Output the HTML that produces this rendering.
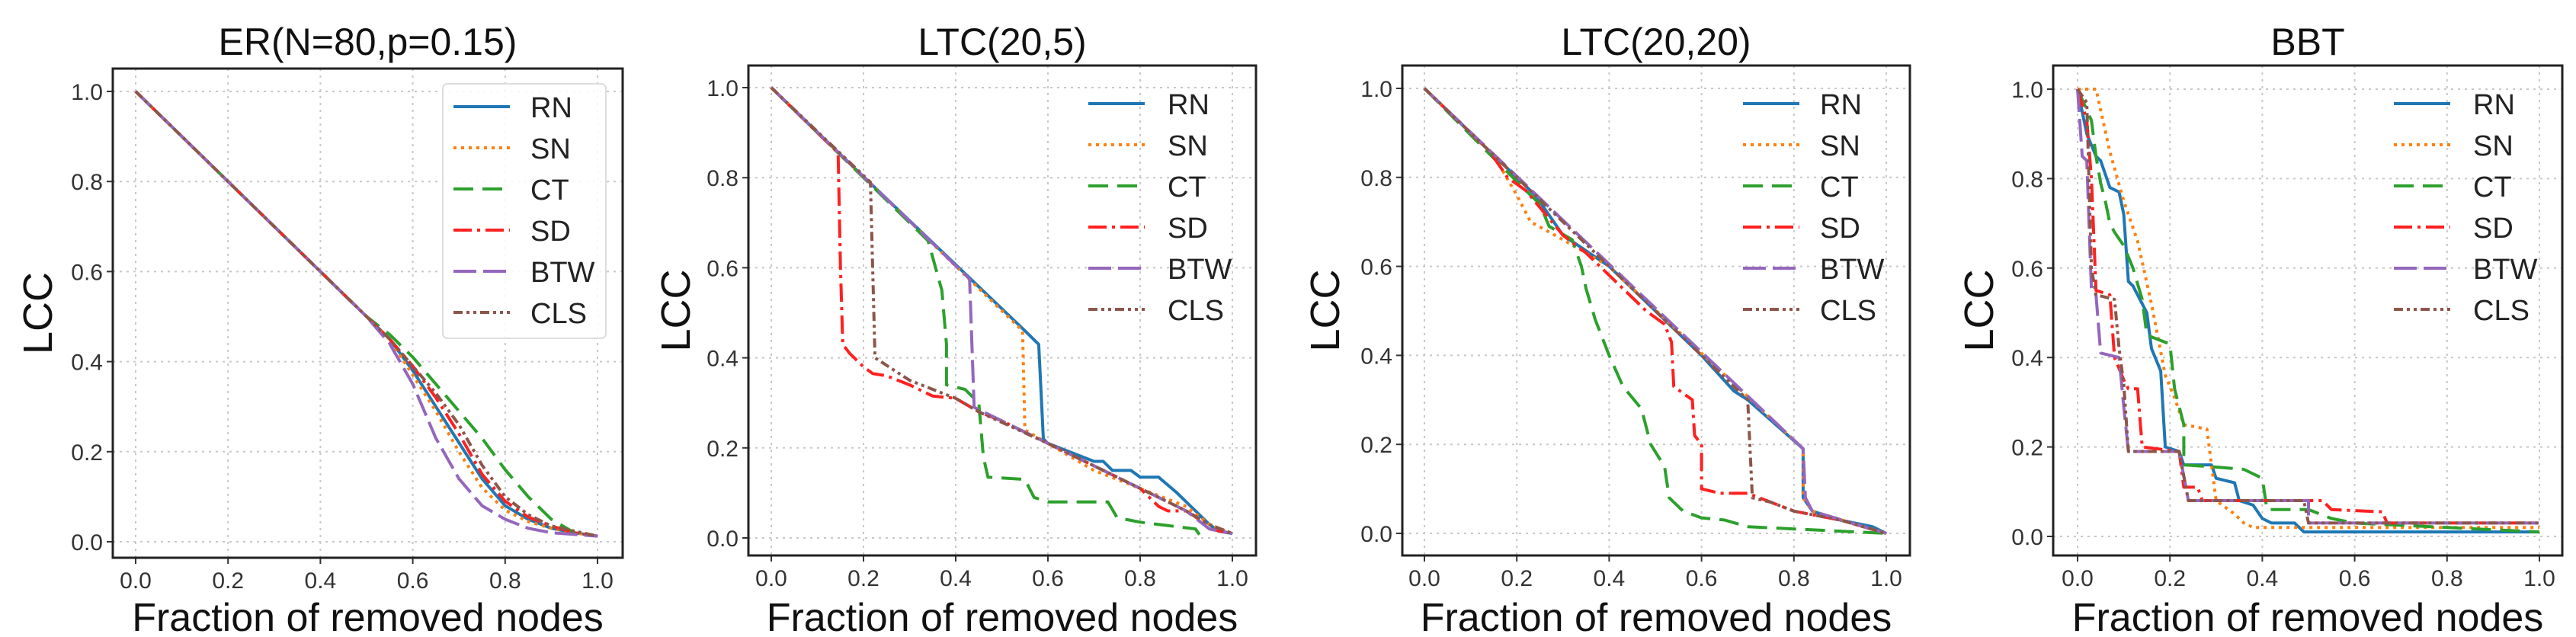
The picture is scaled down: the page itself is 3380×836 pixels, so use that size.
<!DOCTYPE html>
<html><head><meta charset="utf-8"><style>
body{margin:0;background:#fff}
svg{display:block;font-family:"Liberation Sans","DejaVu Sans",sans-serif}
</style></head><body>
<svg id="chart" width="3380" height="836" viewBox="0 0 3380 836" xmlns="http://www.w3.org/2000/svg"></svg>
<script>
const titles = ["ER(N=80,p=0.15)","LTC(20,5)","LTC(20,20)","BBT"];
const seriesNames = ["RN","SN","CT","SD","BTW","CLS"];
const xTicks = [0,0.2,0.4,0.6,0.8,1.0];
const yTicks = [0,0.2,0.4,0.6,0.8,1.0];
const tickLabels = ["0.0","0.2","0.4","0.6","0.8","1.0"];
// data per panel: [series][points [x,y]]
const erData = [
 [[0,1],[0.5,0.5],[0.55,0.45],[0.6,0.38],[0.65,0.3],[0.7,0.22],[0.75,0.14],[0.8,0.08],[0.85,0.05],[0.9,0.03],[0.95,0.02],[1,0.0125]],
 [[0,1],[0.5,0.5],[0.55,0.45],[0.6,0.37],[0.65,0.29],[0.7,0.2],[0.75,0.12],[0.8,0.07],[0.85,0.045],[0.9,0.03],[0.95,0.02],[1,0.0125]],
 [[0,1],[0.5,0.5],[0.55,0.46],[0.6,0.41],[0.65,0.35],[0.7,0.29],[0.75,0.23],[0.8,0.16],[0.85,0.1],[0.9,0.05],[0.95,0.02],[1,0.0125]],
 [[0,1],[0.5,0.5],[0.55,0.45],[0.6,0.39],[0.65,0.32],[0.7,0.24],[0.75,0.15],[0.8,0.09],[0.85,0.055],[0.9,0.035],[0.95,0.02],[1,0.0125]],
 [[0,1],[0.5,0.5],[0.55,0.44],[0.6,0.35],[0.65,0.23],[0.7,0.14],[0.75,0.08],[0.8,0.05],[0.85,0.03],[0.9,0.02],[1,0.0125]],
 [[0,1],[0.5,0.5],[0.55,0.45],[0.6,0.39],[0.65,0.33],[0.7,0.26],[0.75,0.17],[0.8,0.1],[0.85,0.06],[0.9,0.035],[1,0.0125]]
];
const ltc5Data = [
 [[0,1],[0.1,0.9],[0.55,0.46],[0.58,0.43],[0.59,0.22],[0.6,0.21],[0.7,0.17],[0.72,0.17],[0.74,0.15],[0.78,0.15],[0.8,0.135],[0.84,0.135],[0.88,0.1],[0.92,0.06],[0.95,0.03],[0.97,0.015],[1,0.01]],
 [[0,1],[0.545,0.46],[0.55,0.24],[0.6,0.21],[0.7,0.15],[0.8,0.11],[0.9,0.07],[0.95,0.03],[1,0.01]],
 [[0,1],[0.34,0.66],[0.37,0.55],[0.38,0.43],[0.38,0.34],[0.42,0.33],[0.45,0.3],[0.46,0.18],[0.47,0.135],[0.55,0.13],[0.57,0.09],[0.6,0.08],[0.73,0.08],[0.75,0.045],[0.8,0.035],[0.92,0.02],[0.93,0.005]],
 [[0,1],[0.145,0.855],[0.15,0.6],[0.155,0.43],[0.17,0.41],[0.2,0.38],[0.22,0.365],[0.25,0.36],[0.3,0.34],[0.35,0.315],[0.4,0.31],[0.45,0.28],[0.5,0.26],[0.6,0.21],[0.7,0.16],[0.8,0.11],[0.84,0.07],[0.86,0.06],[0.9,0.06],[0.93,0.04],[0.95,0.02],[1,0.01]],
 [[0,1],[0.43,0.575],[0.44,0.29],[0.5,0.26],[0.6,0.21],[0.7,0.16],[0.8,0.11],[0.9,0.06],[0.95,0.02],[1,0.01]],
 [[0,1],[0.215,0.79],[0.225,0.4],[0.3,0.35],[0.35,0.33],[0.4,0.31],[0.45,0.28],[0.6,0.21],[0.7,0.16],[0.8,0.11],[0.9,0.06],[0.95,0.03],[1,0.01]]
];
const ltc20Data = [
 [[0,1],[0.24,0.76],[0.28,0.7],[0.3,0.67],[0.4,0.6],[0.5,0.5],[0.6,0.4],[0.67,0.32],[0.7,0.3],[0.82,0.19],[0.82,0.08],[0.84,0.05],[0.9,0.03],[0.97,0.015],[1,0]],
 [[0,1],[0.15,0.85],[0.2,0.76],[0.23,0.7],[0.3,0.66],[0.35,0.63],[0.4,0.6],[0.82,0.19],[0.82,0.08],[0.84,0.05],[1,0]],
 [[0,1],[0.22,0.77],[0.25,0.74],[0.27,0.69],[0.32,0.66],[0.34,0.6],[0.35,0.55],[0.37,0.48],[0.4,0.4],[0.43,0.33],[0.47,0.28],[0.49,0.2],[0.52,0.15],[0.53,0.08],[0.56,0.05],[0.6,0.035],[0.65,0.03],[0.7,0.015],[0.8,0.01],[0.9,0.005],[1,0]],
 [[0,1],[0.14,0.86],[0.18,0.8],[0.22,0.77],[0.3,0.67],[0.35,0.63],[0.4,0.58],[0.45,0.53],[0.48,0.5],[0.52,0.47],[0.535,0.43],[0.54,0.33],[0.58,0.3],[0.585,0.22],[0.6,0.2],[0.6,0.1],[0.64,0.09],[0.7,0.09],[0.75,0.07],[0.8,0.05],[0.9,0.03],[1,0]],
 [[0,1],[0.82,0.19],[0.825,0.08],[0.84,0.05],[1,0]],
 [[0,1],[0.4,0.6],[0.7,0.3],[0.71,0.08],[0.75,0.07],[0.8,0.05],[0.9,0.03],[1,0]]
];
const bbtData = [
 [[0,1],[0.02,0.9],[0.04,0.85],[0.05,0.84],[0.07,0.78],[0.09,0.77],[0.1,0.72],[0.11,0.57],[0.12,0.56],[0.15,0.5],[0.16,0.42],[0.18,0.37],[0.19,0.2],[0.22,0.19],[0.23,0.16],[0.29,0.16],[0.3,0.13],[0.34,0.12],[0.35,0.08],[0.38,0.07],[0.4,0.04],[0.42,0.03],[0.47,0.03],[0.49,0.01],[1,0.01]],
 [[0,1],[0.04,1],[0.07,0.86],[0.1,0.75],[0.13,0.66],[0.16,0.52],[0.19,0.36],[0.21,0.31],[0.23,0.25],[0.28,0.24],[0.3,0.08],[0.34,0.05],[0.36,0.03],[0.38,0.02],[1,0.02]],
 [[0,1],[0.03,0.93],[0.04,0.85],[0.05,0.79],[0.06,0.75],[0.07,0.7],[0.08,0.68],[0.1,0.65],[0.12,0.6],[0.14,0.53],[0.15,0.45],[0.2,0.43],[0.21,0.33],[0.23,0.25],[0.23,0.16],[0.3,0.155],[0.36,0.15],[0.4,0.13],[0.41,0.06],[0.5,0.06],[0.55,0.04],[0.6,0.03],[0.8,0.02],[1,0.01]],
 [[0,1],[0.02,0.93],[0.03,0.8],[0.04,0.55],[0.07,0.54],[0.08,0.4],[0.1,0.35],[0.11,0.33],[0.13,0.33],[0.14,0.2],[0.22,0.19],[0.23,0.11],[0.26,0.11],[0.27,0.08],[0.53,0.08],[0.55,0.06],[0.66,0.055],[0.67,0.03],[1,0.03]],
 [[0,1],[0.01,0.85],[0.02,0.84],[0.03,0.55],[0.04,0.54],[0.05,0.41],[0.09,0.4],[0.1,0.29],[0.11,0.19],[0.22,0.19],[0.24,0.08],[0.5,0.08],[0.5,0.03],[1,0.03]],
 [[0,1],[0.02,0.97],[0.03,0.6],[0.04,0.54],[0.08,0.53],[0.09,0.42],[0.1,0.34],[0.11,0.19],[0.22,0.19],[0.24,0.08],[0.49,0.08],[0.5,0.03],[1,0.03]]
];
const panelData = [erData, ltc5Data, ltc20Data, bbtData];

const colors = ["#1f77b4","#ff7f0e","#2ca02c","#ff2020","#9467bd","#8c564b"];
const dashes = ["none","4,6","26,12","24,7,4,7","30,9","12,5,4,5,4,5"];
const layout = [
 {L:148,R:817,T:90,B:732,x0:178,x1:784,y0:711,y1:120,ylab:49,leg:{line:595,text:696,top:140,frame:true}},
 {L:982,R:1648,T:86,B:729,x0:1012,x1:1617,y0:706,y1:115,ylab:886,leg:{line:1428,text:1532,top:136,frame:false}},
 {L:1840,R:2506,T:86,B:729,x0:1869,x1:2475,y0:700,y1:116,ylab:1738,leg:{line:2287,text:2388,top:136,frame:false}},
 {L:2694,R:3362,T:86,B:729,x0:2726,x1:3332,y0:704,y1:117,ylab:2596,leg:{line:3141,text:3245,top:136,frame:false}}
];
const NS="http://www.w3.org/2000/svg";
const svg=document.getElementById('chart');
function mk(tag,attrs,parent){const e=document.createElementNS(NS,tag);for(const k in attrs)e.setAttribute(k,attrs[k]);(parent||svg).appendChild(e);return e;}

layout.forEach((p,pi)=>{
  const g=mk('g',{});
  
  
  const sx=v=>p.x0+(p.x1-p.x0)*v;
  const sy=v=>p.y0+(p.y1-p.y0)*v;
  // grid
  xTicks.forEach((t,i)=>{
    const l=mk('line',{x1:sx(t),x2:sx(t),y1:p.T,y2:p.B,stroke:'#c8c8c8','stroke-width':2,'stroke-dasharray':'3,6'},g);
    
    
    const tk=mk('line',{x1:sx(t),x2:sx(t),y1:p.B,y2:p.B+8,stroke:'#333','stroke-width':2},g);
    
    
    const tx=mk('text',{x:sx(t),y:p.B+40,'text-anchor':'middle','font-size':30,fill:'#333'},g);
    tx.textContent=tickLabels[i];
    
    
  });
  yTicks.forEach((t,i)=>{
    const l=mk('line',{x1:p.L,x2:p.R,y1:sy(t),y2:sy(t),stroke:'#c8c8c8','stroke-width':2,'stroke-dasharray':'3,6'},g);
    
    
    const tk=mk('line',{x1:p.L-8,x2:p.L,y1:sy(t),y2:sy(t),stroke:'#333','stroke-width':2},g);
    
    
    const tx=mk('text',{x:p.L-13,y:sy(t)+11,'text-anchor':'end','font-size':30,fill:'#333'},g);
    tx.textContent=tickLabels[i];
    
    
  });
  // series
  panelData[pi].forEach((pts,si)=>{
    const d=pts.map((q,k)=>(k?'L':'M')+sx(q[0]).toFixed(1)+','+sy(q[1]).toFixed(1)).join(' ');
    const a={d:d,fill:'none',stroke:colors[si],'stroke-width':4,'stroke-linejoin':'round'};
    if(dashes[si]!=='none')a['stroke-dasharray']=dashes[si];
    const path=mk('path',a,g);
    
    
  });
  // frame
  const fr=mk('rect',{x:p.L,y:p.T,width:p.R-p.L,height:p.B-p.T,fill:'none',stroke:'#222','stroke-width':3},g);
  
  
  // legend
  const lg=mk('g',{},g);
  
  
  if(p.leg.frame){
    mk('rect',{x:p.leg.line-14,y:p.leg.top-30,width:214,height:334,rx:6,fill:'#fff','fill-opacity':0.85,stroke:'#ddd','stroke-width':2},lg);
  }
  seriesNames.forEach((n,si)=>{
    const y=p.leg.top+si*54;
    const e=mk('g',{},lg);
    
    
    const a={x1:p.leg.line,x2:p.leg.line+74,y1:y,y2:y,stroke:colors[si],'stroke-width':4};
    if(dashes[si]!=='none')a['stroke-dasharray']=dashes[si];
    mk('line',a,e);
    const t=mk('text',{x:p.leg.text,y:y+14,'font-size':38,fill:'#222'},e);
    t.textContent=n;
  });
  // labels
  const ti=mk('text',{x:(p.L+p.R)/2,y:72,'text-anchor':'middle','font-size':50,fill:'#111'},g);
  ti.textContent=titles[pi];
  
  
  const xl=mk('text',{x:(p.L+p.R)/2,y:828,'text-anchor':'middle','font-size':52,fill:'#111'},g);
  xl.textContent='Fraction of removed nodes';
  
  
  const yc=(p.T+p.B)/2;
  const yl=mk('text',{x:p.ylab,y:yc,'text-anchor':'middle','font-size':54,fill:'#111',transform:'rotate(-90 '+p.ylab+' '+yc+') translate(0 19)'},g);
  yl.textContent='LCC';
  
  
});
</script>
</body></html>
